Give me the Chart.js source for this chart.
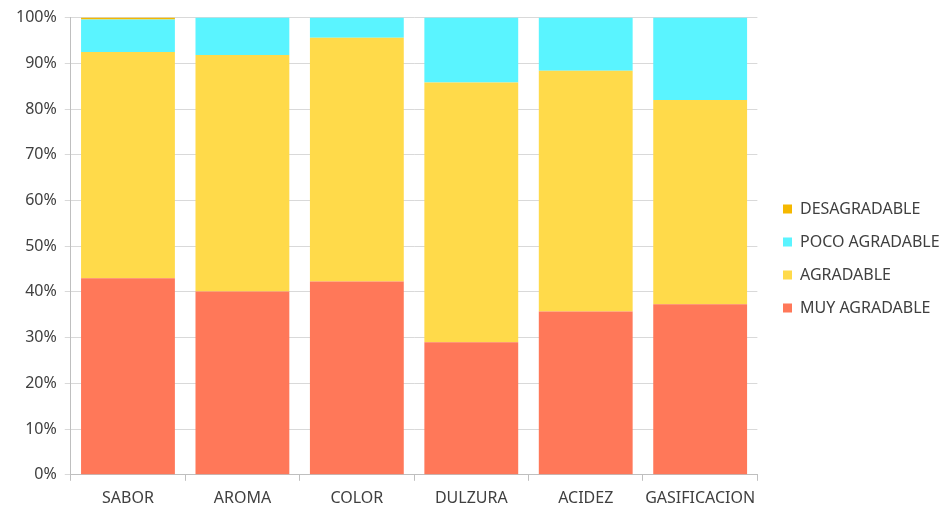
<!DOCTYPE html>
<html>
<head>
<meta charset="utf-8">
<script src="https://cdn.jsdelivr.net/npm/chart.js@4.4.1/dist/chart.umd.min.js"></script>
<style>
  html, body { margin: 0; padding: 0; background: #fff; }
  #wrap { width: 950px; height: 512px; }
</style>
</head>
<body>
<div id="wrap"><canvas id="chart" width="950" height="512"></canvas></div>
<script>
const categories = ["SABOR", "AROMA", "COLOR", "DULZURA", "ACIDEZ", "GASIFICACION"];

const muyAgradable = [43.0, 40.1, 42.3, 29.0, 35.7, 37.3];
const agradable = [49.5, 51.7, 53.3, 56.8, 52.7, 44.7];
const pocoAgradable = [7.1, 8.2, 4.4, 14.2, 11.6, 18.0];
const desagradable = [0.4, 0, 0, 0, 0, 0];

const yTicks = [0, 10, 20, 30, 40, 50, 60, 70, 80, 90, 100];

const font = { family: "'Noto Sans', sans-serif", size: 16 };

// nudge the legend so its boxes line up with the reference
const legendShift = {
  id: "legend-shift",
  afterLayout(chart) {
    const lg = chart.legend;
    if (!lg) return;
    const dx = 783 - (lg.left + 17);
    lg.left += dx;
    lg.right += dx;
    if (lg.legendHitBoxes) lg.legendHitBoxes.forEach(b => { b.left += dx; });
  },
};

const ctx = document.getElementById("chart").getContext("2d");

new Chart(ctx, {
  type: "bar",
  data: {
    labels: categories,
    datasets: [
      { label: "MUY AGRADABLE", data: muyAgradable, backgroundColor: "#FF7859" },
      { label: "AGRADABLE", data: agradable, backgroundColor: "#FFDA4A" },
      { label: "POCO AGRADABLE", data: pocoAgradable, backgroundColor: "#5AF4FF" },
      { label: "DESAGRADABLE", data: desagradable, backgroundColor: "#F5B800" },
    ],
  },
  options: {
    responsive: false,
    animation: false,
    maintainAspectRatio: false,
    layout: { padding: { top: 1, left: 8, right: 9, bottom: -4 } },
    datasets: {
      bar: { barPercentage: 0.82, categoryPercentage: 1.0, borderWidth: 0 },
    },
    plugins: {
      tooltip: { enabled: false },
      legend: {
        position: "right",
        reverse: true,
        labels: {
          boxWidth: 9,
          boxHeight: 9,
          padding: 17,
          color: "#404040",
          font: font,
        },
      },
    },
    scales: {
      x: {
        stacked: true,
        grid: {
          offset: true,
          drawOnChartArea: false,
          drawTicks: true,
          tickLength: 6,
          color: "#BFBFBF",
        },
        border: { color: "#BFBFBF" },
        ticks: { color: "#404040", font: font, padding: 8, maxRotation: 0, autoSkip: false },
      },
      y: {
        stacked: true,
        min: 0,
        max: 100,
        afterBuildTicks: (axis) => { axis.ticks = yTicks.map(v => ({ value: v })); },
        grid: { color: "#D9D9D9", tickLength: 6 },
        border: { color: "#BFBFBF" },
        ticks: {
          color: "#404040",
          font: font,
          padding: 8,
          callback: (v) => v + "%",
        },
      },
    },
  },
  plugins: [legendShift],
});
</script>
</body>
</html>
